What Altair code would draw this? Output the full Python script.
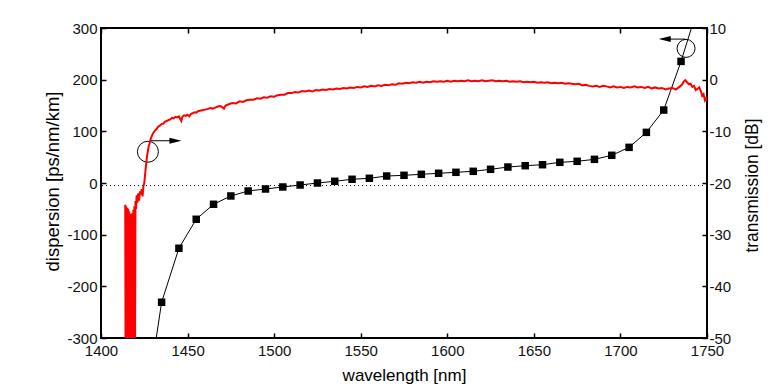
import altair as alt
import pandas as pd

# ---------------- data ----------------
# dispersion (left axis) - measured points (squares)
sq_wavelength = [1435, 1445, 1455, 1465, 1475, 1485, 1495, 1505, 1515, 1525,
                 1535, 1545, 1555, 1565, 1575, 1585, 1595, 1605, 1615, 1625,
                 1635, 1645, 1655, 1665, 1675, 1685, 1695, 1705, 1715, 1725, 1735]
sq_dispersion = [-230.8, -126.3, -70.2, -41.2, -25.1, -15.5, -11.6, -7.7, -3.9, 0.0,
                 3.3, 7.2, 9.1, 13.5, 14.9, 16.8, 18.8, 20.7, 22.6, 26.5,
                 30.9, 33.5, 35.4, 40.0, 42.0, 45.8, 53.6, 69.0, 98.0, 141.2, 235.4]
# the connecting line runs on past both ends of the plot
line_ext_wavelength = [1425, 1745]
line_ext_dispersion = [-454.0, 343.0]

# dotted reference line (dispersion value)
zero_line = [-5]

# transmission (right axis), red spectrum
red_wavelength = [
    1414.0, 1414.2, 1414.5, 1414.8, 1415.1, 1415.4, 1415.7, 1416.0, 1416.3, 1416.6,
    1416.9, 1417.2, 1417.5, 1417.8, 1418.1, 1418.4, 1418.7, 1419.0, 1419.3, 1419.6,
    1419.9, 1420.2, 1420.6, 1421.0, 1421.5, 1422.0, 1422.5, 1423.0, 1423.5, 1424.0,
    1424.5, 1425.0, 1425.4, 1425.8, 1426.2, 1426.6, 1427.0, 1427.5, 1428.0, 1428.6,
    1429.2, 1430.0, 1431.0, 1432.0, 1433.0, 1434.0, 1435.0, 1436.0, 1437.0, 1438.0,
    1439.0, 1440.0, 1441.0, 1442.0, 1443.0, 1444.0, 1445.0, 1445.8, 1446.4, 1447.0,
    1448.0, 1449.0, 1450.0, 1451.0, 1452.0, 1453.0, 1454.0, 1455.0, 1456.0, 1457.0,
    1458.5, 1460.0, 1461.5, 1463.0, 1464.5, 1466.0, 1467.5, 1469.0, 1470.0, 1471.0,
    1472.0, 1473.5, 1475.0,
    1476, 1478, 1480, 1482, 1484, 1486, 1488, 1490, 1492, 1494,
    1496, 1498, 1500, 1502, 1504, 1506, 1508, 1510, 1512, 1514,
    1516, 1518, 1520, 1522, 1524, 1526, 1528, 1530, 1532, 1534,
    1536, 1538, 1540, 1542, 1544, 1546, 1548, 1550, 1552, 1554,
    1556, 1558, 1560, 1562, 1564, 1566, 1568, 1570, 1572, 1574,
    1576, 1578, 1580, 1582, 1584, 1586, 1588, 1590, 1592, 1594,
    1596, 1598, 1600, 1602, 1604, 1606, 1608, 1610, 1612, 1614,
    1616, 1618, 1620, 1622, 1624, 1626, 1628, 1630, 1632, 1634,
    1636, 1638, 1640, 1642, 1644, 1646, 1648, 1650, 1652, 1654,
    1656, 1658, 1660, 1662, 1664, 1666, 1668, 1670, 1672, 1674,
    1676, 1678, 1680, 1682, 1684, 1686, 1688, 1690, 1692, 1694,
    1696, 1698, 1700, 1702, 1704, 1706, 1708, 1710, 1712, 1714,
    1716, 1718, 1720, 1722, 1724, 1726, 1728, 1730, 1732, 1734,
    1735.5, 1736.5, 1737.5, 1738.5, 1739.5, 1740.5, 1741.5, 1742.5, 1743.5, 1744.5,
    1745.5, 1746.5, 1747.2, 1748.0, 1748.8, 1749.5, 1750.0]
red_transmission = [
    -24.2, -58, -24.5, -58, -24.8, -58, -25.0, -58, -25.5, -58,
    -26.0, -58, -26.5, -58, -25.8, -58, -25.2, -58, -24.5, -58,
    -23.5, -25.0, -22.4, -23.8, -22.0, -23.4, -21.6, -22.2, -21.2, -22.6,
    -20.6, -20.0, -18.6, -17.2, -16.0, -14.8, -14.0, -13.0, -12.4, -11.6,
    -11.0, -10.4, -9.9, -9.6, -9.1, -8.9, -8.6, -8.5, -8.1, -8.0,
    -7.8, -7.7, -7.4, -7.5, -7.2, -7.3, -7.1, -7.6, -8.0, -7.2,
    -6.9, -7.0, -6.8, -7.1, -6.6, -6.5, -6.3, -6.4, -6.1, -6.0,
    -5.9, -5.8, -5.7, -5.5, -5.6, -5.4, -5.2, -5.1, -5.3, -5.6,
    -5.0, -4.8, -4.6,
    -4.5, -4.6, -4.2, -4.3, -4.0, -3.9, -3.9, -3.6, -3.7, -3.4,
    -3.5, -3.2, -3.3, -3.0, -2.9, -2.9, -2.6, -2.6, -2.4, -2.5,
    -2.2, -2.3, -2.1, -2.3, -2.0, -2.1, -1.9, -2.0, -1.8, -1.9,
    -1.7, -1.8, -1.6, -1.7, -1.5, -1.6, -1.4, -1.5, -1.3, -1.4,
    -1.2, -1.3, -1.1, -1.2, -1.0, -1.1, -0.9, -1.0, -0.7, -0.8,
    -0.6, -0.7, -0.5, -0.6, -0.4, -0.6, -0.4, -0.5, -0.3, -0.4,
    -0.3, -0.4, -0.2, -0.4, -0.2, -0.3, -0.2, -0.3, -0.1, -0.3,
    -0.2, -0.3, -0.1, -0.3, -0.2, -0.1, -0.3, -0.2, -0.3, -0.2,
    -0.4, -0.3, -0.4, -0.3, -0.5, -0.4, -0.5, -0.4, -0.6, -0.5,
    -0.6, -0.5, -0.7, -0.6, -0.7, -0.6, -0.8, -0.7, -0.8, -0.9,
    -0.8, -1.1, -1.0, -1.2, -1.3, -1.2, -1.4, -1.2, -1.3, -1.5,
    -1.3, -1.5, -1.4, -1.6, -1.4, -1.5, -1.3, -1.5, -1.4, -1.6,
    -1.4, -1.7, -1.5, -1.7, -1.6, -1.9, -1.7, -1.6, -1.9, -1.4,
    -1.0, -0.4, -0.1, -0.5, -0.9, -0.8, -1.4, -1.2, -2.0, -1.8,
    -1.5, -2.3, -3.1, -2.8, -4.0, -3.6, -4.1]

# annotation circles / arrows (data coordinates on the dispersion axis)
circle_wavelength = [1427.1, 1737.9]
circle_dispersion = [60.5, 260.5]
circle_size = [441, 324]
arrow_start = [1428.6, 1737.5]
arrow_end = [1443.6, 1724.0]
arrow_dispersion = [81.8, 278.5]
head_wavelength = [1443.0, 1725.6]
head_shape = ["M-1,-0.5L1,0L-1,0.5Z", "M1,-0.5L-1,0L1,0.5Z"]

x_ticks = [1400, 1450, 1500, 1550, 1600, 1650, 1700, 1750]
disp_ticks = [-300, -200, -100, 0, 100, 200, 300]
trans_ticks = [-50, -40, -30, -20, -10, 0, 10]

# ---------------- tables ----------------
sq_df = pd.DataFrame({"wl": sq_wavelength, "disp": sq_dispersion})
line_df = pd.DataFrame({
    "wl": [line_ext_wavelength[0]] + sq_wavelength + [line_ext_wavelength[1]],
    "disp": [line_ext_dispersion[0]] + sq_dispersion + [line_ext_dispersion[1]],
})
zero_df = pd.DataFrame({"disp": zero_line})
red_df = pd.DataFrame({"wl": red_wavelength, "db": red_transmission})
circ_df = pd.DataFrame({"wl": circle_wavelength, "disp": circle_dispersion, "size": circle_size})
arrow_df = pd.DataFrame({"wl": arrow_start, "wl2": arrow_end, "disp": arrow_dispersion})
head_df = pd.DataFrame({"wl": head_wavelength, "disp": arrow_dispersion, "shape": head_shape})

FONT = "Liberation Sans"

x_bottom = alt.X(
    "wl:Q",
    scale=alt.Scale(domain=[1400, 1750], nice=False, zero=False),
    axis=alt.Axis(
        orient="bottom", values=x_ticks, offset=-5, tickSize=5, tickWidth=1.5,
        tickColor="black", labelPadding=17, labelBaseline="alphabetic",
        labelFlush=False, labelOverlap=False,
        labelExpr="'' + datum.value", domain=False, grid=False,
        title="wavelength [nm]", titleBaseline="alphabetic", titleY=47,
        titleFontSize=17,
    ),
)
y_left = alt.Y(
    "disp:Q",
    scale=alt.Scale(domain=[-300, 300], nice=False, zero=False),
    axis=alt.Axis(
        orient="left", values=disp_ticks, offset=-5, tickSize=5, tickWidth=1.5,
        tickColor="black", labelPadding=4, labelExpr="'' + datum.value",
        labelFlush=False, labelOverlap=False,
        domain=False, grid=False, title="dispersion [ps/nm/km]",
        titleBaseline="alphabetic", titleX=-48, titleY=153, titleFontSize=18.5,
    ),
)

line = alt.Chart(line_df).mark_line(color="black", strokeWidth=1, clip=True).encode(
    x=x_bottom, y=y_left)
squares = alt.Chart(sq_df).mark_square(color="black", size=56, opacity=1, clip=True).encode(
    x=x_bottom, y=y_left)
zero = alt.Chart(zero_df).mark_rule(color="black", strokeWidth=1, strokeDash=[1, 3]).encode(
    y=y_left)
circles = alt.Chart(circ_df).mark_point(shape="circle", filled=False, color="black",
                                        strokeWidth=1, opacity=1).encode(
    x=x_bottom, y=y_left, size=alt.Size("size:Q", scale=None, legend=None))
arrows = alt.Chart(arrow_df).mark_rule(color="black", strokeWidth=1).encode(
    x=x_bottom, x2="wl2:Q", y=y_left)
heads = alt.Chart(head_df).mark_point(filled=True, color="black", size=144, opacity=1).encode(
    x=x_bottom, y=y_left, shape=alt.Shape("shape:N", scale=None, legend=None))

disp_layer = alt.layer(line, squares, zero, circles, arrows, heads)

red = alt.Chart(red_df).mark_line(color="#ff0000", strokeWidth=2, clip=True).encode(
    x=alt.X(
        "wl:Q",
        scale=alt.Scale(domain=[1400, 1750], nice=False, zero=False),
        axis=alt.Axis(orient="top", values=x_ticks, offset=-5, tickSize=5, tickWidth=1.5,
                      tickColor="black", labels=False, domain=False, grid=False, title=None),
    ),
    y=alt.Y(
        "db:Q",
        scale=alt.Scale(domain=[-50, 10], nice=False, zero=False),
        axis=alt.Axis(
            orient="right", values=trans_ticks, offset=-5, tickSize=5, tickWidth=1.5,
            tickColor="black", labelPadding=2, labelExpr="'' + datum.value",
            labelFlush=False, labelOverlap=False,
            domain=False, grid=False, title="transmission [dB]",
            titleAngle=270, titleBaseline="alphabetic", titleX=55, titleY=157,
            titleFontSize=17.5,
        ),
    ),
)

chart = (
    alt.layer(disp_layer, red)
    .resolve_scale(x="independent", y="independent")
    .properties(
        width=606, height=310,
        autosize=alt.AutoSizeParams(type="none"),
        padding={"left": 93, "top": 20, "right": 60, "bottom": 46},
        background="white",
    )
    .configure_view(stroke="black", strokeWidth=2)
    .configure_axis(
        labelFont=FONT, labelFontSize=15, labelColor="#111111",
        titleFont=FONT, titleColor="black", titleFontWeight="normal",
    )
)

chart.save("out.html", embed_options={"renderer": "svg", "actions": False})
